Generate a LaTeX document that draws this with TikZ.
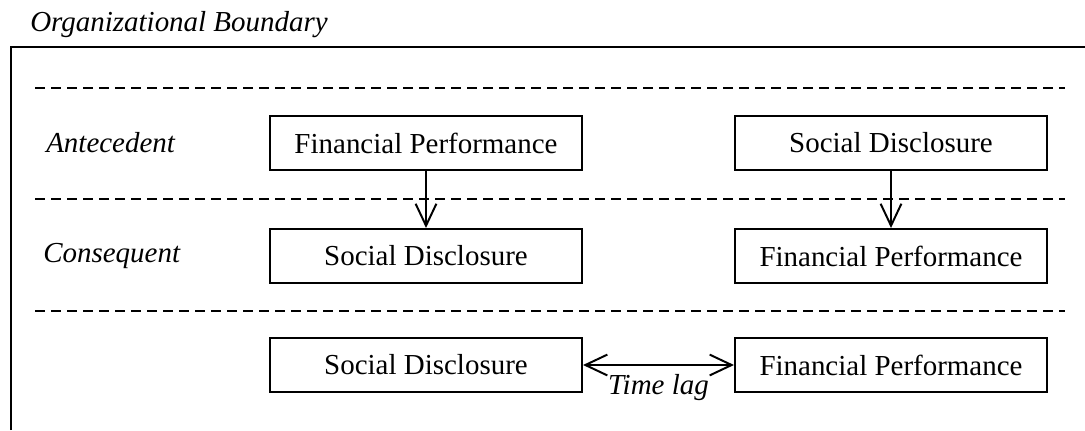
\documentclass[tikz,border=0pt]{standalone}
\usepackage{fontspec}
\setmainfont{Liberation Serif}
\usetikzlibrary{arrows.meta}

\tikzset{
  box/.style={draw,line width=1.4pt,minimum width=7.8cm,minimum height=1.35cm,inner sep=0pt,font=\fontsize{20.6}{24}\selectfont},
  lbl/.style={anchor=west,inner sep=0pt,font=\fontsize{20.6}{24}\selectfont\itshape},
  sep/.style={line width=1.7pt,dash pattern=on 0.25cm off 0.15cm},
}

\begin{document}
\begin{tikzpicture}[x=0.025cm,y=-0.025cm,>={Straight Barb[length=5.5mm,width=5.2mm]}]
        \useasboundingbox (0,0) rectangle (1085,430);
        % boundary
        \node[lbl] (bound) at (30,25) {Organizational Boundary};
        \draw[line width=1.8pt] (11,430) -- (11,47) -- (1085,47);
        \draw[sep] (35,88) -- (1065,88);
        \draw[sep] (35,199) -- (1065,199);
        \draw[sep] (35,311) -- (1065,311);
        % rows
        \node[lbl] (ante) at (46,143) {Antecedent};
        \node[lbl] (cons) at (43,256) {Consequent};
        \node[box] (fpA) at (426,143) {Financial Performance};
        \node[box] (sdA) at (891,143) {Social Disclosure};
        \node[box] (sdC) at (426,256) {Social Disclosure};
        \node[box] (fpC) at (891,256) {Financial Performance};
        \node[box] (sdL) at (426,365) {Social Disclosure};
        \node[box] (fpL) at (891,365) {Financial Performance};
        \draw[->,line width=1.4pt] (fpA) -- (sdC);
        \draw[->,line width=1.4pt] (sdA) -- (fpC);
        \draw[<->,line width=1.4pt] (sdL) -- node[below,font=\fontsize{20.6}{24}\selectfont\itshape,inner sep=6pt] (lag) {Time lag} (fpL);
    \end{tikzpicture}
\end{document}
